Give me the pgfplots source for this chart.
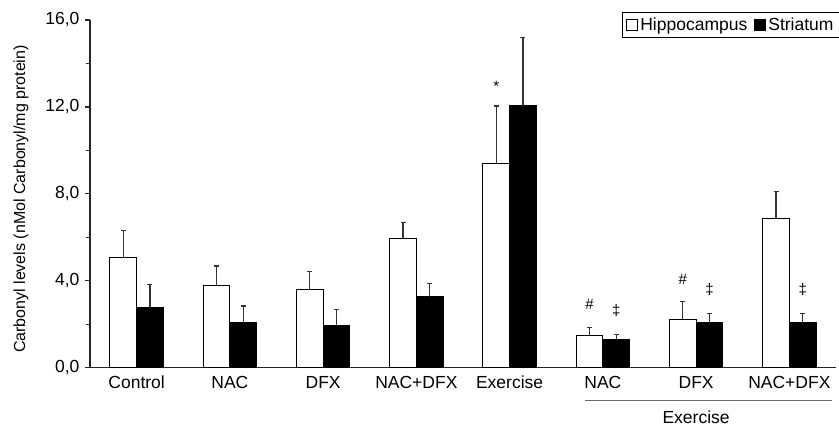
\documentclass[border=0pt]{standalone}
\usepackage{fontspec}
\setmainfont{Liberation Sans}
\usepackage{pgfplots}
\pgfplotsset{compat=1.18}
\begin{document}
\begin{tikzpicture}
\useasboundingbox (0,0) rectangle (839pt,427pt);
\begin{axis}[
  at={(90pt,59.3pt)}, anchor=south west,
  scale only axis, width=746pt, height=347.7pt,
  xmin=-0.5, xmax=7.5, ymin=0, ymax=16,
  axis lines*=left,
  axis line style={line width=1.2pt, draw=black!85},
  ybar=0pt, bar width=26.7pt,
  xtick={0,...,7},
  xticklabels={Control,NAC,DFX,NAC+DFX,Exercise,NAC,DFX,NAC+DFX},
  xtick style={draw=none},
  ytick={0,4,8,12,16},
  minor ytick={2,6,10,14},
  tick align=outside,
  major tick length=5pt, minor tick length=4pt,
  ytick style={line width=1.2pt, draw=black!85},
  minor tick style={line width=1.2pt, draw=black!85},
  tick label style={font=\fontsize{17.5}{21}\selectfont},
  yticklabel style={xshift=-2pt, /pgf/number format/.cd, fixed, fixed zerofill, precision=1, use comma, assume math mode=true},
  x tick label style={anchor=base, yshift=-16pt},
  ylabel={Carbonyl levels (nMol Carbonyl/mg protein)},
  every axis y label/.style={at={(axis description cs:-0.0925,0.485)}, rotate=90, anchor=center, font=\fontsize{16}{19}\selectfont},
  legend style={at={(axis description cs:1,1)}, anchor=north east, xshift=4pt, yshift=7.7pt,
    draw=black, line width=1pt, inner xsep=4pt, inner ysep=3.5pt, font=\fontsize{17.5}{21}\selectfont,
    legend columns=2, /tikz/every even column/.append style={column sep=5pt},
    legend cell align=left},
  legend image code/.code={\draw[#1, line width=1pt] (0.5pt,-5.5pt) rectangle (11.5pt,5.5pt);},
  clip=false,
]
\addplot[fill=white, draw=black, line width=1pt,
  error bars/.cd, y dir=plus, y explicit,
  error bar style={line width=1.3pt, draw=black!80},
  error mark options={rotate=90, mark size=2.5pt, line width=1.3pt, draw=black!80}]
coordinates {
(0,5.06) +- (0,1.24)
(1,3.76) +- (0,0.92)
(2,3.58) +- (0,0.86)
(3,5.95) +- (0,0.72)
(4,9.41) +- (0,2.63)
(5,1.47) +- (0,0.39)
(6,2.24) +- (0,0.80)
(7,6.87) +- (0,1.23)
};
\addlegendentry{Hippocampus}
\addplot[fill=black, draw=black, line width=1pt,
  error bars/.cd, y dir=plus, y explicit,
  error bar style={line width=1.3pt, draw=black!80},
  error mark options={rotate=90, mark size=2.5pt, line width=1.3pt, draw=black!80}]
coordinates {
(0,2.78) +- (0,1.04)
(1,2.07) +- (0,0.77)
(2,1.95) +- (0,0.74)
(3,3.27) +- (0,0.61)
(4,12.06) +- (0,3.14)
(5,1.31) +- (0,0.23)
(6,2.06) +- (0,0.43)
(7,2.06) +- (0,0.43)
};
\addlegendentry{Striatum}
\node[font=\fontsize{15}{15}\selectfont] at (axis cs:3.857,12.96) {*};
\node[font=\fontsize{15}{15}\selectfont] at (axis cs:4.857,2.92) {\#};
\node[font=\fontsize{15}{15}\selectfont] at (axis cs:5.857,4.08) {\#};
\node[font=\fontsize{15}{15}\selectfont] at (axis cs:5.143,2.61) {‡};
\node[font=\fontsize{15}{15}\selectfont] at (axis cs:6.143,3.61) {‡};
\node[font=\fontsize{15}{15}\selectfont] at (axis cs:7.143,3.61) {‡};
\draw[black!60, line width=1pt] ([yshift=-33.3pt]axis cs:4.808,0) -- ([yshift=-33.3pt]axis cs:7.457,0);
\node[anchor=base, inner sep=0pt, font=\fontsize{17.5}{21}\selectfont] at ([yshift=-55.5pt]axis cs:6,0) {Exercise};
\end{axis}
\end{tikzpicture}
\end{document}
